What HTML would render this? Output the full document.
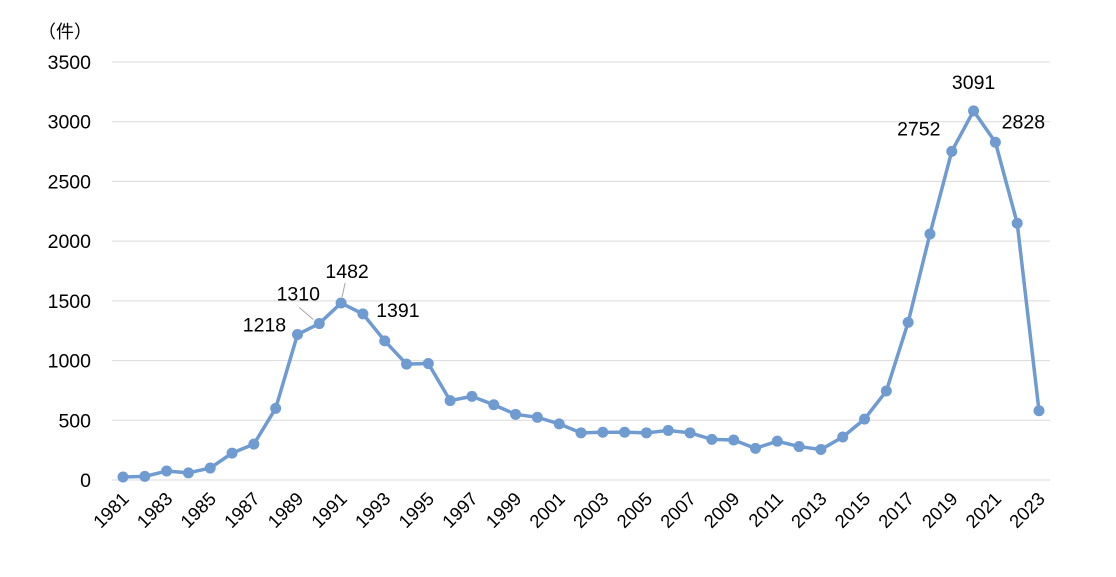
<!DOCTYPE html>
<html><head><meta charset="utf-8"><style>
body{margin:0;background:#fff;}
svg text{font-family:"Liberation Sans","Noto Sans CJK JP",sans-serif;fill:#000;}
</style></head><body>
<svg width="1116" height="572" id="c">
<text x="38" y="38" font-size="18">（件）</text>
</svg>
<script>
const years=[1981,1982,1983,1984,1985,1986,1987,1988,1989,1990,1991,1992,1993,1994,1995,1996,1997,1998,1999,2000,2001,2002,2003,2004,2005,2006,2007,2008,2009,2010,2011,2012,2013,2014,2015,2016,2017,2018,2019,2020,2021,2022,2023];
const counts=[25,30,75,60,100,225,300,600,1218,1310,1482,1391,1165,970,975,665,700,630,550,525,470,395,400,400,395,415,395,340,335,265,325,280,255,360,510,745,1320,2060,2752,3091,2828,2150,580];
const yTicks=[0,500,1000,1500,2000,2500,3000,3500];
const labeled=[1989,1990,1991,1992,2019,2020,2021];
const svg=document.getElementById('c');
const NS='http://www.w3.org/2000/svg';
const x0=123,x1=1039,yb=480,yt=62;
const X=i=>x0+(x1-x0)*i/(years.length-1);
const Y=v=>yb-(yb-yt)*v/3500;
function mk(t,a){const e=document.createElementNS(NS,t);for(const k in a)e.setAttribute(k,a[k]);svg.appendChild(e);return e;}
yTicks.forEach(v=>{
 const g=mk('line',{x1:112,x2:1050,y1:Y(v),y2:Y(v),stroke:'#d9d9d9','stroke-width':1});
 
 
 const t=mk('text',{x:91,y:Y(v)+7,'font-size':19.5,'text-anchor':'end'});
 t.textContent=v;
 
 
});
years.forEach((yr,i)=>{
 if(i%2)return;
 const t=mk('text',{x:X(i)+7,y:500,'font-size':18.5,'text-anchor':'end',transform:`rotate(-45 ${X(i)+7} 500)`});
 t.textContent=yr;
 
 
});
const ln=mk('polyline',{points:counts.map((v,i)=>X(i)+','+Y(v)).join(' '),fill:'none',stroke:'#6f9bd1','stroke-width':3.5,'stroke-linejoin':'round'});


counts.forEach((v,i)=>{
 const c=mk('circle',{cx:X(i),cy:Y(v),r:5.5,fill:'#6f9bd1'});
 
 
});
const off={1989:[-33,-10,'middle'],1990:[-21,-30,'middle'],1991:[6,-32,'middle'],1992:[35,-4,'middle'],2019:[-33,-23,'middle'],2020:[0,-29,'middle'],2021:[28,-21,'middle']};
labeled.forEach(yr=>{
 const i=years.indexOf(yr),o=off[yr],px=X(i),py=Y(counts[i]);
 if(yr===1990){const l=mk('line',{x1:px-6,y1:py-4,x2:px-20,y2:py-16,stroke:'#a6a6a6'});}
 if(yr===1991){const l=mk('line',{x1:px+1,y1:py-6,x2:px+4,y2:py-20,stroke:'#a6a6a6'});}
 const t=mk('text',{x:px+o[0],y:py+o[1]+7,'font-size':19.5,'text-anchor':o[2]});
 t.textContent=counts[i];
 
 
});
</script>
</body></html>
